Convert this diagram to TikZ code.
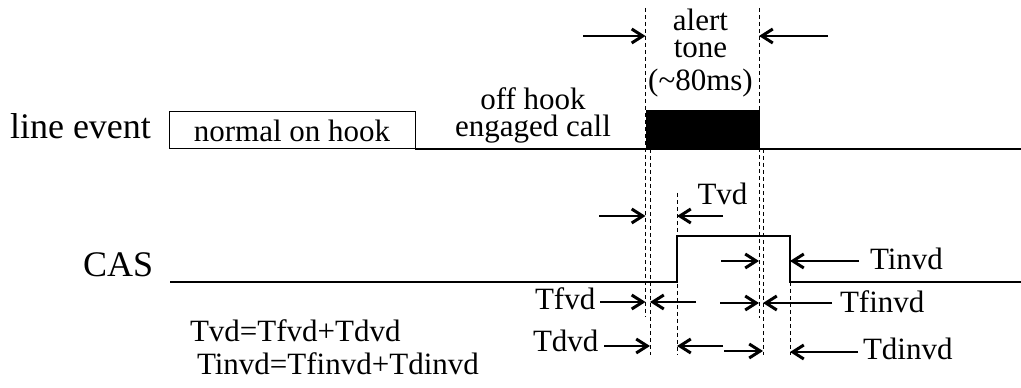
\documentclass[tikz,border=0pt]{standalone}
\usepackage{fontspec}
\setmainfont{Liberation Serif}
\usetikzlibrary{arrows.meta}

\begin{document}
\begin{tikzpicture}[x=1pt,y=1pt,
  bigtext/.style={text=drawColor,inner sep=0pt,outer sep=0pt,font=\fontsize{36}{38}\selectfont},
  lbltext/.style={text=drawColor,inner sep=0pt,outer sep=0pt,font=\fontsize{31}{33}\selectfont},
  stacktext/.style={lbltext,align=center,font=\fontsize{31}{27}\selectfont},
  sigline/.style={draw=drawColor,line width=1.2pt,line join=miter},
  markline/.style={draw=drawColor,line width=0.9pt,dash pattern=on 4pt off 3pt},
  dimarrow/.style={color=drawColor,line width=1.2pt,-{Straight Barb[length=11pt,width=14pt,line width=3pt]}}]
\definecolor{drawColor}{RGB}{0,0,0}
\path[use as bounding box] (0,0) rectangle (1021,388);

% line event trace
\node[bigtext,anchor=base west] (lineevent) at ( 10,249) {line event};
\node[lbltext,draw=drawColor,line width=1pt,minimum width=246pt,minimum height=37pt,anchor=south west] (onhook) at (169,239) {normal on hook};
\node[stacktext,anchor=north] (offhook) at (533,300.5) {off hook\\engaged call};
\node[draw=drawColor,fill=drawColor,inner sep=0pt,minimum width=113.5pt,minimum height=39pt,anchor=south west] (tonebox) at (645.5,239) {};
\coordinate (lineend) at (1021,239);
\path[sigline] (onhook.south east) -- (lineend);

\node[stacktext,anchor=north] (alert) at (700.5,379) {alert\\tone\\[6pt](\textasciitilde80ms)};

% CAS trace
\node[bigtext,anchor=base west] (cas) at ( 83,111) {CAS};
\path[sigline] (170,106) -- (677,106) -- (677,152) -- (790,152) -- (790,106) -- (1021,106);

% marker lines
\coordinate (toneon) at (645.5,0);
\coordinate (fvdon) at (650,0);
\coordinate (vdon) at (677,0);
\coordinate (toneoff) at (759,0);
\coordinate (finvdoff) at (763,0);
\coordinate (invdoff) at (790,0);

\path[markline] (645.5,380) -- (645.5, 71);
\path[markline] (650.0,239) -- (650.0, 33);
\path[markline] (677.0,195) -- (677.0, 33);
\path[markline] (759.0,380) -- (759.0, 70);
\path[markline] (763.0,239) -- (763.0, 33);
\path[markline] (790.0,106) -- (790.0, 33);

% alert tone width
\coordinate (ontail) at (583,352);
\coordinate (offtail) at (828,352);
\draw[dimarrow] (ontail) -- (ontail -| toneon);
\draw[dimarrow] (offtail) -- (offtail -| toneoff);

% Tvd and Tinvd
\node[lbltext,anchor=base] (tvd) at (722.5,183) {Tvd};
\coordinate (vdtailA) at (599,172);
\coordinate (vdtailB) at (723,172);
\draw[dimarrow] (vdtailA) -- (vdtailA -| toneon);
\draw[dimarrow] (vdtailB) -- (vdtailB -| vdon);

\node[lbltext,anchor=base west] (tinvd) at (870,118) {Tinvd};
\coordinate (invdtailA) at (721,127);
\coordinate (invdtailB) at (859,127);
\draw[dimarrow] (invdtailA) -- (invdtailA -| toneoff);
\draw[dimarrow] (invdtailB) -- (invdtailB -| invdoff);

% Tfvd and Tfinvd
\node[lbltext,anchor=base west] (tfvd) at (535,78) {Tfvd};
\coordinate (fvdtailA) at (600,86);
\coordinate (fvdtailB) at (696,86);
\draw[dimarrow] (fvdtailA) -- (fvdtailA -| toneon);
\draw[dimarrow] (fvdtailB) -- (fvdtailB -| fvdon);

\node[lbltext,anchor=base west] (tfinvd) at (840,75) {Tfinvd};
\coordinate (finvdtailA) at (720,85);
\coordinate (finvdtailB) at (832,85);
\draw[dimarrow] (finvdtailA) -- (finvdtailA -| toneoff);
\draw[dimarrow] (finvdtailB) -- (finvdtailB -| finvdoff);

% Tdvd and Tdinvd
\node[lbltext,anchor=base west] (tdvd) at (533,36) {Tdvd};
\coordinate (dvdtailA) at (604,42);
\coordinate (dvdtailB) at (723,42);
\draw[dimarrow] (dvdtailA) -- (dvdtailA -| fvdon);
\draw[dimarrow] (dvdtailB) -- (dvdtailB -| vdon);

\node[lbltext,anchor=base west] (tdinvd) at (863,28) {Tdinvd};
\coordinate (dinvdtailA) at (724,37);
\coordinate (dinvdtailB) at (858,36);
\draw[dimarrow] (dinvdtailA) -- (dinvdtailA -| finvdoff);
\draw[dimarrow] (dinvdtailB) -- (dinvdtailB -| invdoff);

% relations
\node[lbltext,anchor=base west] (vdsum) at (190,46) {Tvd=Tfvd+Tdvd};
\node[lbltext,anchor=base west] (invdsum) at (197,13) {Tinvd=Tfinvd+Tdinvd};
\end{tikzpicture}
\end{document}
